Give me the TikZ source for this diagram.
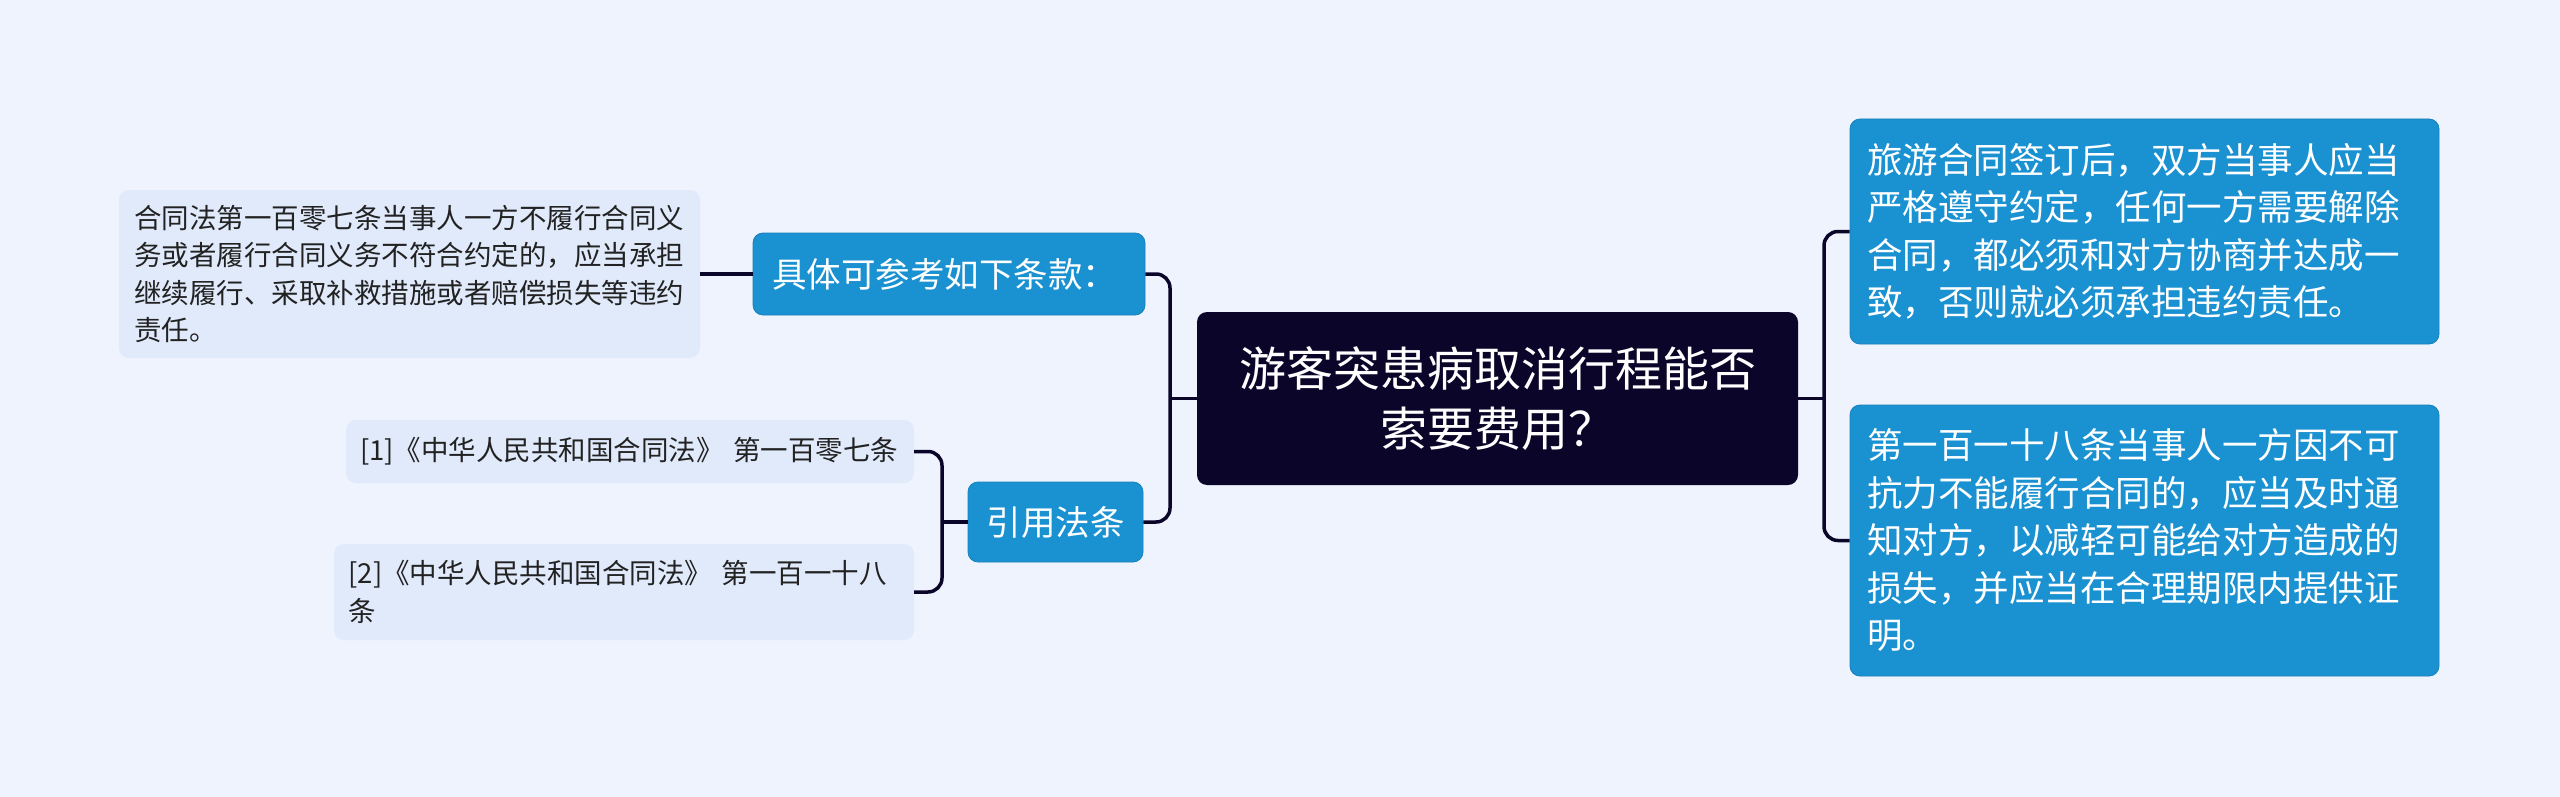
\documentclass[tikz,border=0pt]{standalone}
\usepackage{fontspec}
\newfontfamily\cjk{Noto Sans CJK SC}
\usepackage{xcolor}
\definecolor{bgc}{HTML}{EEF3FD}
\definecolor{navy}{HTML}{0B0629}
\definecolor{blu}{HTML}{1A91D1}
\definecolor{pale}{HTML}{E1EAFB}
\definecolor{ink}{HTML}{222222}
\usetikzlibrary{calc}

\begin{document}
\begin{tikzpicture}[x=1pt, y=-1pt,
  link/.style={draw=navy, line width=3.5pt, rounded corners=14pt},
  rootbox/.style={rounded corners=10pt, fill=navy, text=white, inner sep=0pt, align=center, font=\cjk\fontsize{47}{60}\selectfont},
  topic/.style={rounded corners=10pt, fill=blu, draw=blu!88!black, line width=0.8pt, text=white, inner sep=0pt, font=\cjk\fontsize{34.5}{47.5}\selectfont},
  note/.style={rounded corners=10pt, fill=pale, text=ink, inner sep=0pt, font=\cjk\fontsize{27.5}{37.5}\selectfont},
  wide/.style={font=\cjk\fontsize{35.5}{47.5}\selectfont},]
\fill[bgc] (0,0) rectangle (2560,797);
\useasboundingbox (0,0) rectangle (2560,797);
\node[rootbox, minimum width=601pt, minimum height=173pt] (0) at (1497.5, 398.5)  {游客突患病取消行程能否\\索要费用？};
\node[topic, wide, minimum width=589pt, minimum height=225pt, text width=555pt, align=left] (1) at (2144.5, 231.5)  {旅游合同签订后，双方当事人应当\\严格遵守约定，任何一方需要解除\\合同，都必须和对方协商并达成一\\致，否则就必须承担违约责任。};
\node[topic, wide, minimum width=589pt, minimum height=271pt, text width=555pt, align=left] (2) at (2144.5, 540.5)  {第一百一十八条当事人一方因不可\\抗力不能履行合同的，应当及时通\\知对方，以减轻可能给对方造成的\\损失，并应当在合理期限内提供证\\明。};
\node[topic, minimum width=392pt, minimum height=82pt, text width=354pt, align=left] (3) at (949, 274)  {具体可参考如下条款：};
\node[note, minimum width=581pt, minimum height=168pt, text width=551pt, align=left] (4) at (409.5, 274)  {合同法第一百零七条当事人一方不履行合同义\\务或者履行合同义务不符合约定的，应当承担\\继续履行、采取补救措施或者赔偿损失等违约\\责任。};
\node[topic, minimum width=175pt, minimum height=80pt, align=center] (5) at (1055.5, 522)  {引用法条};
\node[note, minimum width=568pt, minimum height=63pt, text width=540pt, align=left] (6) at (630, 451.5)  {[1]《中华人民共和国合同法》~第一百零七条};
\node[note, minimum width=580pt, minimum height=96pt, text width=551pt, align=left] (7) at (624, 592)  {[2]《中华人民共和国合同法》~第一百一十八\\条};
\coordinate (rbar) at (1824, 398.5);
\coordinate (lbar) at (1170, 398.5);
\coordinate (cbar) at (942, 522);
 \draw[link] (1.west) -| (rbar) |- (2.west);
 \draw[link] (0.east) -- (rbar);
 \draw[link] (3.east) -| (lbar) |- (5.east);
 \draw[link] (0.west) -- (lbar);
 \draw[link] (4.east) -- (3.west);
 \draw[link] (6.east) -| (cbar) |- (7.east);
 \draw[link] (5.west) -- (cbar);
\end{tikzpicture}
\end{document}
